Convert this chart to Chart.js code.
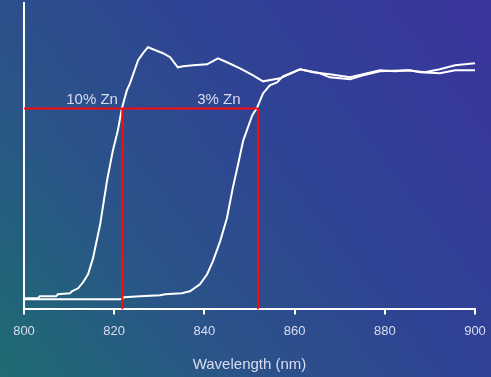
<!DOCTYPE html>
<html>
<head>
<meta charset="utf-8">
<script src="https://cdn.jsdelivr.net/npm/chart.js@4/dist/chart.umd.min.js"></script>
<style>
  html, body { margin: 0; padding: 0; background: #2a4f88; }
  #wrap { width: 491px; height: 377px; }
</style>
</head>
<body>
<div id="wrap"><canvas id="chart"></canvas></div>
<script>
// x ticks (nm)
const xTicks = [800, 820, 840, 860, 880, 900];

// 10% Zn curve: wavelength (nm) and signal (arbitrary units)
const zn10Wave = [800, 803.1, 803.5, 807.1, 807.5, 810.2, 810.6, 812, 813.1, 814.2, 815.3, 816.9, 818.4, 819.7, 820.8, 821.7,
    822.8, 823.5, 825.3, 826.4, 827.5, 828.6, 830.8, 832.4, 834.1, 835.3, 837.5, 840.6, 843, 845, 847.9, 850.8, 853,
    856.8, 861.2, 864.1, 867.8, 872.3, 876.1, 878.9, 882.3, 885.6, 887.8, 892.2, 895.6, 900];
const zn10Signal = [11, 11, 13, 13, 15, 16, 18, 21, 27, 35, 51, 85, 128, 158, 178, 200,
    218, 225, 248, 255, 261, 259, 255, 251, 241, 242, 243, 244, 250, 246, 240, 233, 227,
    230, 239, 236, 234, 231, 235, 238, 237, 238, 236, 235, 238, 238];

// 3% Zn curve
const zn3Wave = [800, 808, 821.7, 822.2, 825.7, 830.2, 831.3, 835, 836.8, 839, 840.6, 841.9, 843.5, 845, 846.3, 847.5,
    848.6, 849.4, 850.6, 851.7, 853, 854.5, 856.1, 857.4, 861.2, 865.6, 867.8, 872.3, 875.2, 878.9, 884.9, 888.9,
    892.2, 895.6, 900];
const zn3Signal = [10, 10, 10, 12, 13, 14, 15, 16, 18, 25, 35, 48, 68, 91, 121, 145,
    168, 178, 193, 201, 215, 223, 226, 232, 239, 235, 231, 229, 233, 237, 238, 236,
    239, 243, 245];

// red guide: half-height level and the two crossing wavelengths
const halfLevel = 200;
const cross10 = 821.8;
const cross3 = 851.9;

const labels = [
    { text: '10% Zn', x: 815.1, y: 209 },
    { text: '3% Zn', x: 843.2, y: 209 }
];

function toPoints(xs, ys) {
    return xs.map((x, i) => ({ x: x, y: ys[i] }));
}

const bgPlugin = {
    id: 'bg',
    beforeDraw(chart) {
        const ctx = chart.ctx;
        const w = chart.width, h = chart.height;
        const g = ctx.createLinearGradient(0, h, w, 0);
        g.addColorStop(0, '#1e6c72');
        g.addColorStop(0.3, '#2a5488');
        g.addColorStop(0.6, '#2f4394');
        g.addColorStop(1, '#3a349c');
        ctx.save();
        ctx.fillStyle = g;
        ctx.fillRect(0, 0, w, h);
        ctx.restore();
    }
};

const labelPlugin = {
    id: 'zlabels',
    afterDatasetsDraw(chart) {
        const ctx = chart.ctx;
        const xs = chart.scales.x, ys = chart.scales.y;
        ctx.save();
        ctx.font = '15px "Liberation Sans", Arial, sans-serif';
        ctx.fillStyle = '#dcdcf0';
        ctx.textAlign = 'center';
        ctx.textBaseline = 'middle';
        labels.forEach(l => ctx.fillText(l.text, xs.getPixelForValue(l.x), ys.getPixelForValue(l.y)));
        ctx.restore();
    }
};

const red = '#ff0a0a';

new Chart(document.getElementById('chart'), {
    type: 'line',
    data: {
        datasets: [
            { data: [{ x: 800, y: halfLevel }, { x: cross3, y: halfLevel }], borderColor: red, borderWidth: 2 },
            { data: [{ x: cross10, y: 0 }, { x: cross10, y: halfLevel }], borderColor: red, borderWidth: 2 },
            { data: [{ x: cross3, y: 0 }, { x: cross3, y: halfLevel }], borderColor: red, borderWidth: 2 },
            { label: '10% Zn', data: toPoints(zn10Wave, zn10Signal), borderColor: '#ffffff', borderWidth: 2 },
            { label: '3% Zn', data: toPoints(zn3Wave, zn3Signal), borderColor: '#ffffff', borderWidth: 2 }
        ]
    },
    options: {
        responsive: true,
        maintainAspectRatio: false,
        animation: false,
        events: [],
        elements: { point: { radius: 0 }, line: { tension: 0 } },
        layout: { padding: { left: 24, right: 16, top: 3, bottom: 0 } },
        plugins: { legend: { display: false }, tooltip: { enabled: false } },
        scales: {
            x: {
                type: 'linear',
                min: 800,
                max: 900,
                afterBuildTicks: axis => { axis.ticks = xTicks.map(v => ({ value: v })); },
                afterFit: axis => { axis.paddingLeft = 0; axis.paddingRight = 0; },
                grid: { drawOnChartArea: false, drawTicks: true, tickLength: 5, color: '#ffffff', lineWidth: 2 },
                border: { display: true, color: '#ffffff', width: 2 },
                ticks: {
                    padding: 9,
                    color: '#dcdcf0',
                    font: { family: '"Liberation Sans", Arial, sans-serif', size: 13 }
                },
                title: {
                    display: true,
                    text: 'Wavelength (nm)',
                    color: '#dcdcf0',
                    font: { family: '"Liberation Sans", Arial, sans-serif', size: 15 },
                    padding: { top: 8, bottom: 3 }
                }
            },
            y: {
                min: 0,
                max: 305,
                grid: { display: false, drawTicks: false },
                border: { display: true, color: '#ffffff', width: 2 },
                ticks: { display: false }
            }
        }
    },
    plugins: [bgPlugin, labelPlugin]
});
</script>
</body>
</html>
